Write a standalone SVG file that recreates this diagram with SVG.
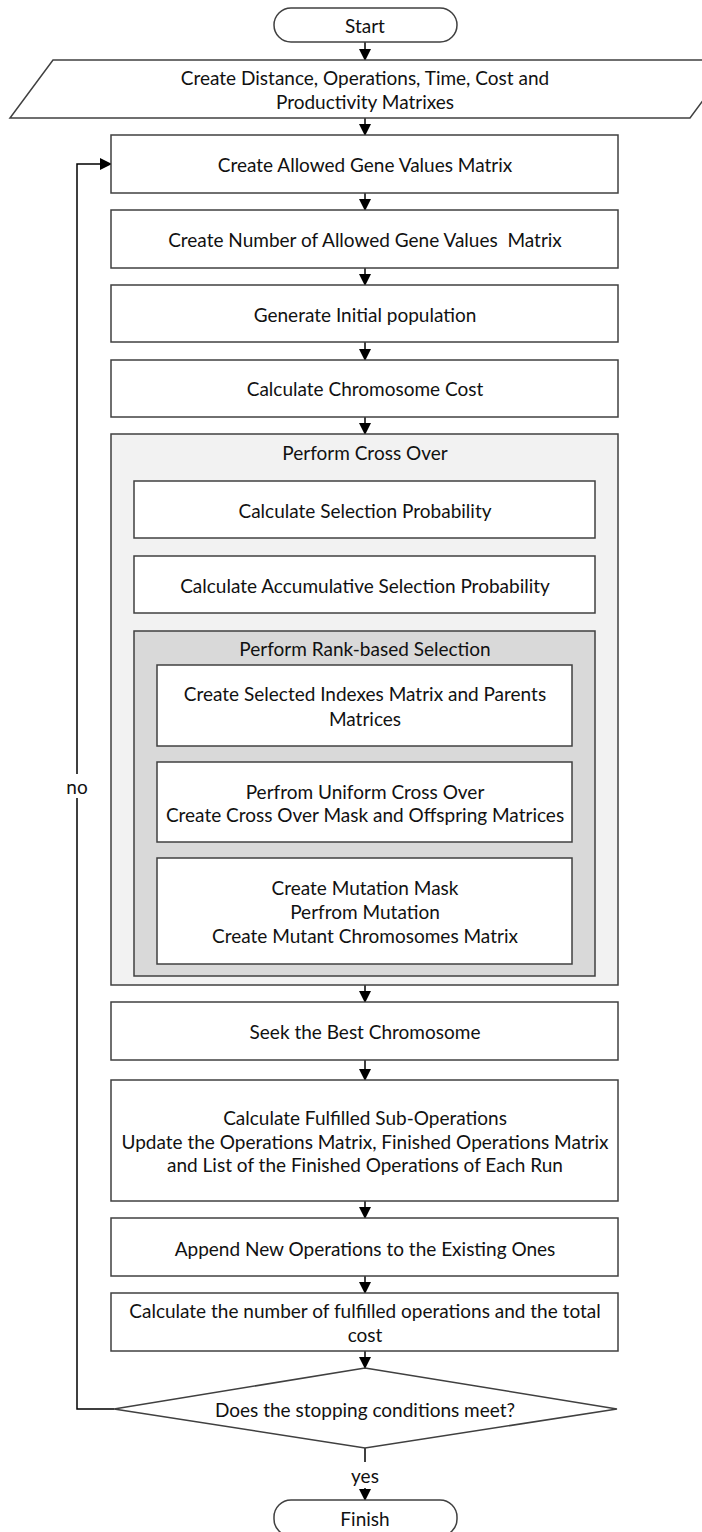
<svg xmlns="http://www.w3.org/2000/svg" width="702" height="1532" viewBox="0 0 702 1532">
<defs>
<marker id="ah" markerWidth="12" markerHeight="12" refX="11" refY="6" orient="auto" markerUnits="userSpaceOnUse">
<path d="M0,0 L12,6 L0,12 Z" fill="#000"/>
</marker>
<style>
.box{fill:#fff;stroke:#404040;stroke-width:1.5}
.c1{fill:#f2f2f2;stroke:#404040;stroke-width:1.5}
.c2{fill:#d9d9d9;stroke:#404040;stroke-width:1.5}
.t{font-family:Lato,"Liberation Sans",sans-serif;font-size:19px;fill:#111;text-anchor:middle;dominant-baseline:central}
.ln{fill:none;stroke:#000;stroke-width:1.5}
</style>
</defs>
<rect width="702" height="1532" fill="#fff"/>
<g id="connectors">
<line class="ln" x1="365" y1="42" x2="365" y2="60" marker-end="url(#ah)"/>
<line class="ln" x1="365" y1="118" x2="365" y2="135" marker-end="url(#ah)"/>
<line class="ln" x1="365" y1="193" x2="365" y2="210" marker-end="url(#ah)"/>
<line class="ln" x1="365" y1="268" x2="365" y2="285" marker-end="url(#ah)"/>
<line class="ln" x1="365" y1="342" x2="365" y2="360" marker-end="url(#ah)"/>
<line class="ln" x1="365" y1="417" x2="365" y2="434" marker-end="url(#ah)"/>
<line class="ln" x1="365" y1="538" x2="365" y2="556" marker-end="url(#ah)"/>
<line class="ln" x1="365" y1="613" x2="365" y2="631" marker-end="url(#ah)"/>
<line class="ln" x1="365" y1="746" x2="365" y2="762" marker-end="url(#ah)"/>
<line class="ln" x1="365" y1="842" x2="365" y2="858" marker-end="url(#ah)"/>
<line class="ln" x1="365" y1="985" x2="365" y2="1002" marker-end="url(#ah)"/>
<line class="ln" x1="365" y1="1060" x2="365" y2="1080" marker-end="url(#ah)"/>
<line class="ln" x1="365" y1="1201" x2="365" y2="1218" marker-end="url(#ah)"/>
<line class="ln" x1="365" y1="1276" x2="365" y2="1293" marker-end="url(#ah)"/>
<line class="ln" x1="365" y1="1351" x2="365" y2="1368" marker-end="url(#ah)"/>
<line class="ln" x1="365" y1="1448" x2="365" y2="1462"/>
<line class="ln" x1="365" y1="1488" x2="365" y2="1500" marker-end="url(#ah)"/>
<polyline class="ln" points="114,1409 77,1409 77,798"/>
<polyline class="ln" points="77,774 77,164 111,164" marker-end="url(#ah)"/>
<text class="t" x="77" y="786">no</text>
<text class="t" x="365" y="1475">yes</text>
</g>
<g id="start">
<rect class="box" x="274" y="8" width="183" height="34" rx="17"/>
<text class="t" x="365" y="25">Start</text>
</g>
<g id="input">
<polygon class="box" points="53,60 733,60 690,118 10,118"/>
<text class="t" x="365" y="77">Create Distance, Operations, Time, Cost and</text>
<text class="t" x="365" y="101">Productivity Matrixes</text>
</g>
<g id="allowed">
<rect class="box" x="111" y="135" width="507" height="58"/>
<text class="t" x="365" y="164">Create Allowed Gene Values Matrix</text>
</g>
<g id="number">
<rect class="box" x="111" y="210" width="507" height="58"/>
<text class="t" x="365" y="239" xml:space="preserve">Create Number of Allowed Gene Values  Matrix</text>
</g>
<g id="initial">
<rect class="box" x="111" y="285" width="507" height="57"/>
<text class="t" x="365" y="314">Generate Initial population</text>
</g>
<g id="cost">
<rect class="box" x="111" y="360" width="507" height="57"/>
<text class="t" x="365" y="388">Calculate Chromosome Cost</text>
</g>
<g id="crossover">
<rect class="c1" x="111" y="434" width="507" height="551"/>
<text class="t" x="365" y="452">Perform Cross Over</text>
</g>
<g id="selprob">
<rect class="box" x="134" y="481" width="461" height="57"/>
<text class="t" x="365" y="510">Calculate Selection Probability</text>
</g>
<g id="accprob">
<rect class="box" x="134" y="556" width="461" height="57"/>
<text class="t" x="365" y="585">Calculate Accumulative Selection Probability</text>
</g>
<g id="rank">
<rect class="c2" x="134" y="631" width="461" height="345"/>
<text class="t" x="365" y="648">Perform Rank-based Selection</text>
</g>
<g id="selected">
<rect class="box" x="157" y="665" width="415" height="81"/>
<text class="t" x="365" y="693">Create Selected Indexes Matrix and Parents</text>
<text class="t" x="365" y="718">Matrices</text>
</g>
<g id="uniform">
<rect class="box" x="157" y="762" width="415" height="80"/>
<text class="t" x="365" y="791">Perfrom Uniform Cross Over</text>
<text class="t" x="365" y="814">Create Cross Over Mask and Offspring Matrices</text>
</g>
<g id="mutation">
<rect class="box" x="157" y="858" width="415" height="106"/>
<text class="t" x="365" y="887">Create Mutation Mask</text>
<text class="t" x="365" y="911">Perfrom Mutation</text>
<text class="t" x="365" y="935">Create Mutant Chromosomes Matrix</text>
</g>
<g id="best">
<rect class="box" x="111" y="1002" width="507" height="58"/>
<text class="t" x="365" y="1031">Seek the Best Chromosome</text>
</g>
<g id="fulfilled">
<rect class="box" x="111" y="1080" width="507" height="121"/>
<text class="t" x="365" y="1117">Calculate Fulfilled Sub-Operations</text>
<text class="t" x="365" y="1141">Update the Operations Matrix, Finished Operations Matrix</text>
<text class="t" x="365" y="1164">and List of the Finished Operations of Each Run</text>
</g>
<g id="append">
<rect class="box" x="111" y="1218" width="507" height="58"/>
<text class="t" x="365" y="1248">Append New Operations to the Existing Ones</text>
</g>
<g id="total">
<rect class="box" x="111" y="1293" width="507" height="58"/>
<text class="t" x="365" y="1310">Calculate the number of fulfilled operations and the total</text>
<text class="t" x="365" y="1334">cost</text>
</g>
<g id="decision">
<polygon class="box" points="365,1368 617,1409 365,1448 114,1409"/>
<text class="t" x="365" y="1409">Does the stopping conditions meet?</text>
</g>
<g id="finish">
<rect class="box" x="274" y="1500" width="183" height="36" rx="17"/>
<text class="t" x="365" y="1518">Finish</text>
</g>
</svg>
